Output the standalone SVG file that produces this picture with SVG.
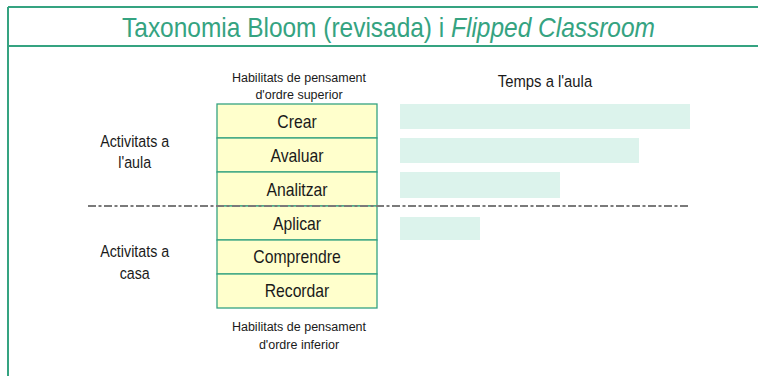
<svg xmlns="http://www.w3.org/2000/svg" width="758" height="376" viewBox="0 0 758 376">
<style>
.frame{stroke:#35a381;stroke-width:2;fill:none}
.lvl rect{fill:#ffffcc;stroke:#35a381;stroke-width:1.3}
text{font-family:"Liberation Sans",Arial,sans-serif;fill:#1a1a1a;text-anchor:middle}
.lvl text{font-size:17.5px}
.small{font-size:12.5px}
.med{font-size:17px}
.bar{fill:#dcf3ec}
</style>
<rect width="758" height="376" fill="#ffffff"/>
<g id="frame">
<line class="frame" x1="8" y1="7" x2="760" y2="7"/>
<line class="frame" x1="8" y1="7" x2="8" y2="380"/>
<line class="frame" x1="8" y1="46" x2="760" y2="46"/>
</g>
<g id="title" transform="translate(388.5 37) scale(0.89 1)">
<text x="0" y="0" font-size="27.5" fill="#35a381" style="fill:#35a381">Taxonomia Bloom (revisada) i <tspan font-style="italic">Flipped Classroom</tspan></text>
</g>
<g id="header-top"><text class="small" x="299" y="82">Habilitats de pensament</text><text class="small" x="299" y="99">d'ordre superior</text></g>
<g id="header-bottom"><text class="small" x="299" y="331">Habilitats de pensament</text><text class="small" x="299" y="348.5">d'ordre inferior</text></g>
<g id="temps" transform="translate(545 87) scale(0.91 1)"><text x="0" y="0" font-size="16.3">Temps a l'aula</text></g>
<g id="aula" transform="translate(134.7 0) scale(0.84 1)"><text class="med" x="0" y="147">Activitats a</text><text class="med" x="0" y="168">l'aula</text></g>
<g id="casa" transform="translate(134.7 0) scale(0.84 1)"><text class="med" x="0" y="257">Activitats a</text><text class="med" x="0" y="279">casa</text></g>
<g id="crear" class="lvl"><rect x="217" y="104" width="160" height="34"/><text transform="translate(297 128) scale(0.9 1)">Crear</text></g>
<g id="avaluar" class="lvl"><rect x="217" y="138" width="160" height="34"/><text transform="translate(297 162) scale(0.9 1)">Avaluar</text></g>
<g id="analitzar" class="lvl"><rect x="217" y="172" width="160" height="34"/><text transform="translate(297 195.5) scale(0.9 1)">Analitzar</text></g>
<g id="aplicar" class="lvl"><rect x="217" y="206" width="160" height="34"/><text transform="translate(297 229.5) scale(0.9 1)">Aplicar</text></g>
<g id="comprendre" class="lvl"><rect x="217" y="240" width="160" height="34"/><text transform="translate(297 263) scale(0.9 1)">Comprendre</text></g>
<g id="recordar" class="lvl"><rect x="217" y="274" width="160" height="34"/><text transform="translate(297 297) scale(0.9 1)">Recordar</text></g>
<g id="bars">
<rect class="bar" x="400" y="104" width="290" height="25"/>
<rect class="bar" x="400" y="138" width="239" height="25"/>
<rect class="bar" x="400" y="172" width="160" height="26"/>
<rect class="bar" x="400" y="217" width="80" height="23"/>
</g>
<g id="connectors">
<line x1="88" y1="206" x2="690" y2="206" stroke="#7a7a7a" stroke-width="2" stroke-dasharray="8 2.5 3 2.5"/>
</g>
</svg>
